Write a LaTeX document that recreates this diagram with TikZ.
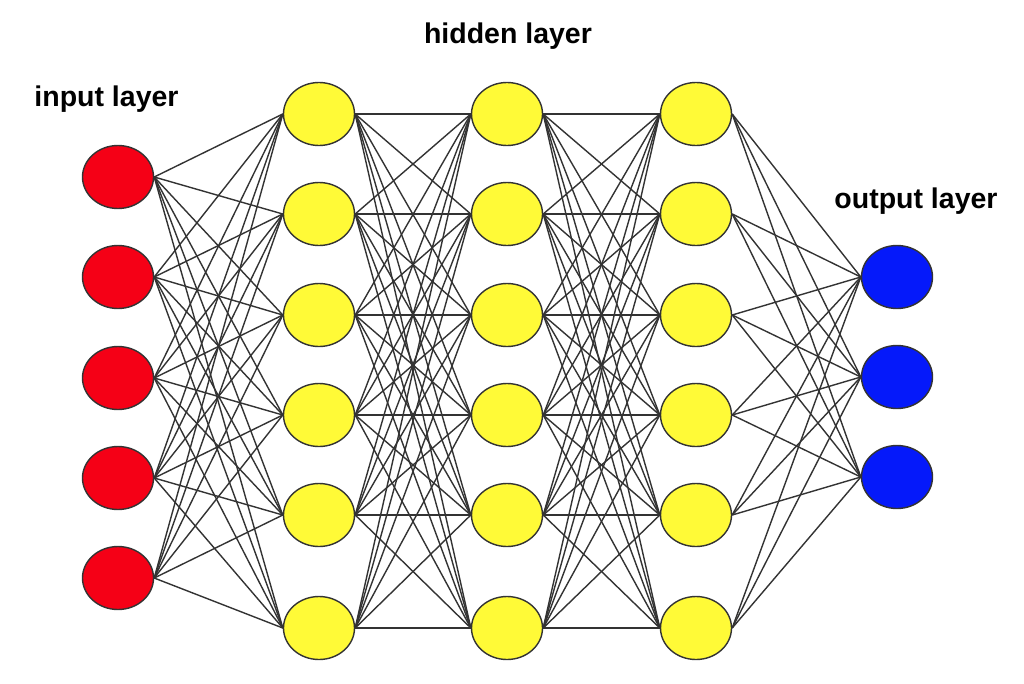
\documentclass[tikz,border=0pt]{standalone}
\usepackage{fontspec}
\setmainfont{Liberation Sans}
\usetikzlibrary{shapes.geometric}
\definecolor{nred}{RGB}{245,0,22}
\definecolor{nyellow}{RGB}{255,250,55}
\definecolor{nblue}{RGB}{5,25,250}
\tikzset{
      neuron/.style  = { ellipse, draw=black!80, line width=1.4pt, minimum width=71pt, minimum height=63pt, inner sep=0pt },
      input/.style   = { neuron, fill=nred },
      hidden/.style  = { neuron, fill=nyellow },
      output/.style  = { neuron, fill=nblue },
      connect/.style = { line width=1.4pt, black!80 },
      title/.style   = { font=\bfseries\fontsize{28.5}{34}\selectfont, anchor=base }
    }

\begin{document}
\begin{tikzpicture}[x=1pt, y=-1pt]
      \useasboundingbox[fill=white] (0,0) rectangle (1024,683);

      % Draw all neurons
      \foreach \i/\y in {1/177, 2/277, 3/378, 4/478, 5/578} {
        \node[input] (in\i) at (118,\y) {};
      }
      \foreach \i/\y in {1/114, 2/214, 3/315, 4/415, 5/515, 6/628} {
        \node[hidden] (ha\i) at (319,\y) {};
        \node[hidden] (hb\i) at (507,\y) {};
        \node[hidden] (hc\i) at (696,\y) {};
      }
      \foreach \i/\y in {1/277, 2/377, 3/477} {
        \node[output] (out\i) at (897,\y) {};
      }

      % Draw all connections
      \foreach \i in {1,...,5} {
        \foreach \j in {1,...,6} {
          \draw[connect] (in\i.east) -- (ha\j.west);
        }
      }
      \foreach \i in {1,...,6} {
        \foreach \j in {1,...,6} {
          \draw[connect] (ha\i.east) -- (hb\j.west);
          \draw[connect] (hb\i.east) -- (hc\j.west);
        }
      }
      \foreach \i in {1,...,6} {
        \foreach \j in {1,...,3} {
          \draw[connect] (hc\i.east) -- (out\j.west);
        }
      }

      % Draw labels
      \node[title] (lin)  at (106.5,106) {input layer};
      \node[title] (lhid) at (508,43)    {hidden layer};
      \node[title] (lout) at (916,208)   {output layer};
    \end{tikzpicture}
\end{document}
